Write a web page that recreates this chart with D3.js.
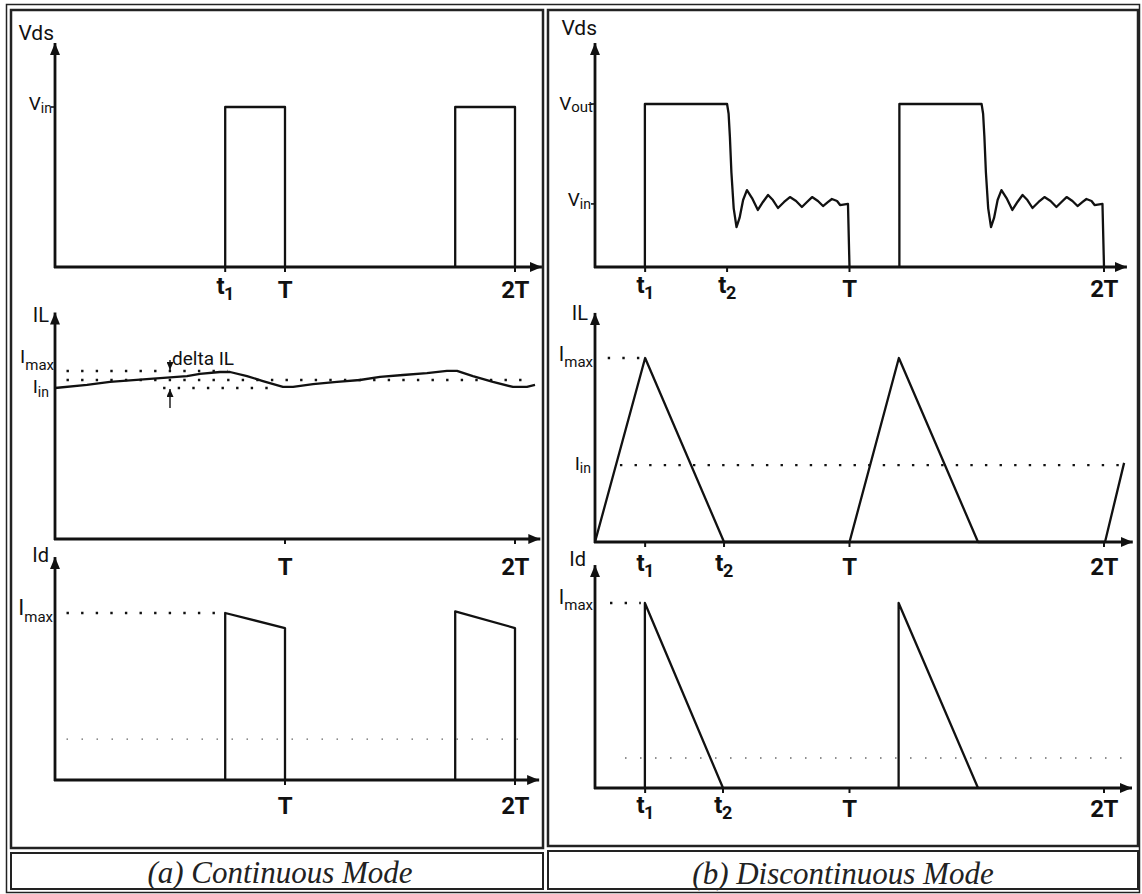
<!DOCTYPE html>
<html lang="en">
<head>
<meta charset="UTF-8" />
<title>Boost converter waveforms - CCM / DCM</title>
<script src="https://cdn.jsdelivr.net/npm/d3@7"></script>
<style>
  body { margin: 0; background: #fff; }
  svg { display: block; }
  .lbl { font-family: "Liberation Sans Narrow", "Arial Narrow", Roboto, sans-serif; fill: #111; }
  .tk { font-weight: bold; letter-spacing: -0.5px; }
  .cap { font-family: "Liberation Serif", "Times New Roman", serif; font-style: italic; fill: #222; }
</style>
</head>
<body>
<div id="chart"></div>
<script>
// time is in periods (T), amplitudes normalised per plot

// ---- (a) continuous mode ----
const contTickT = [0.74, 1, 2]
const contTickText = [['t', '1'], ['T', ''], ['2T', '']]
const contSwitchOn = [0.74, 1.74]
const contSwitchOff = [1.0, 2.0]
const contVin = 1
const contIL = [
  [0, 1.0], [0.139, 1.02], [0.239, 1.04], [0.413, 1.06], [0.574, 1.079],
  [0.63, 1.093], [0.717, 1.106], [0.761, 1.106], [0.835, 1.079], [0.904, 1.046],
  [0.991, 1.007], [1.035, 1.007], [1.122, 1.026], [1.226, 1.04], [1.326, 1.053],
  [1.413, 1.073], [1.513, 1.086], [1.617, 1.099], [1.704, 1.113], [1.748, 1.113],
  [1.817, 1.079], [1.904, 1.04], [1.991, 1.007], [2.052, 1.007], [2.087, 1.02]
]
const contILImax = 1.113
const contILIin = 1.0
const contILRefs = [[1.113, 0.05, 0.75], [1.053, 0.05, 2.06], [1.0, 0.47, 0.96]]
const contIdStart = [1.0, 1.01]
const contIdEnd = [0.91, 0.91]
const contIdRefs = [[1.0, 0.05, 0.72]]
const contIdFaint = [[0.245, 0.05, 2.06]]

// ---- (b) discontinuous mode ----
const dcmTickT = [0.197, 0.519, 1, 2]
const dcmTickText = [['t', '1'], ['t', '2'], ['T', ''], ['2T', '']]
const dcmPeriods = [0, 1]
const dcmVout = 1
const dcmVin = 0.387
const dcmVds = [
  [0.196, 0], [0.196, 1], [0.519, 1], [0.525, 0.94], [0.53, 0.8], [0.536, 0.58],
  [0.545, 0.36], [0.556, 0.245], [0.568, 0.301], [0.582, 0.411], [0.597, 0.472],
  [0.617, 0.423], [0.64, 0.35], [0.66, 0.399], [0.68, 0.442], [0.699, 0.411],
  [0.719, 0.362], [0.743, 0.399], [0.766, 0.429], [0.79, 0.405], [0.813, 0.368],
  [0.833, 0.399], [0.853, 0.429], [0.876, 0.405], [0.896, 0.374], [0.916, 0.399],
  [0.931, 0.417], [0.951, 0.405], [0.963, 0.38], [0.994, 0.387], [1.0, 0]
]
const dcmIL = [[0, 0], [0.197, 1], [0.507, 0], [1.0, 0], [1.194, 1], [1.505, 0], [2.004, 0], [2.079, 0.43]]
const dcmILImax = 1
const dcmILIin = 0.418
const dcmILRefs = [[1, 0.05, 0.18], [0.418, 0.098, 2.07]]
const dcmIdOn = [0.196, 1.193]
const dcmIdOff = [0.503, 1.505]
const dcmIdRefs = [[1, 0.059, 0.18]]
const dcmIdFaint = [[0.162, 0.118, 2.07]]

const svg = d3.select('#chart').append('svg').attr('width', 1142).attr('height', 894)

const defs = svg.append('defs')
defs.append('marker')
  .attr('id', 'arrow').attr('viewBox', '0 0 12 10').attr('refX', 12).attr('refY', 5)
  .attr('markerWidth', 12).attr('markerHeight', 10)
  .attr('markerUnits', 'userSpaceOnUse').attr('orient', 'auto')
  .append('path').attr('d', 'M0,0L12,5L0,10Z').attr('fill', '#111')
defs.append('marker')
  .attr('id', 'arrowSm').attr('viewBox', '0 0 8 7').attr('refX', 8).attr('refY', 3.5)
  .attr('markerWidth', 8).attr('markerHeight', 7)
  .attr('markerUnits', 'userSpaceOnUse').attr('orient', 'auto')
  .append('path').attr('d', 'M0,0L8,3.5L0,7Z').attr('fill', '#111')

// frames
const frame = svg.append('g').attr('fill', 'none').attr('stroke', '#222')
frame.append('rect').attr('x', 6.5).attr('y', 4.5).attr('width', 1133).attr('height', 888).attr('stroke-width', 1.5)
frame.append('rect').attr('x', 11).attr('y', 10).attr('width', 532).attr('height', 838).attr('stroke-width', 2.5)
frame.append('rect').attr('x', 548).attr('y', 10).attr('width', 590).attr('height', 836).attr('stroke-width', 2.5)
frame.append('rect').attr('x', 11).attr('y', 853).attr('width', 532).attr('height', 36).attr('stroke-width', 2)
frame.append('rect').attr('x', 548).attr('y', 851).attr('width', 590).attr('height', 38).attr('stroke-width', 2)

function label(g, x, y, main, sub, o = {}) {
  const t = g.append('text').attr('class', o.cls ? 'lbl ' + o.cls : 'lbl')
    .attr('x', x).attr('y', y)
    .attr('text-anchor', o.anchor || 'middle')
    .attr('font-size', o.size || 24)
  t.append('tspan').text(main)
  if (sub) {
    t.append('tspan').attr('font-size', o.subSize || 17).attr('dy', o.subDy || 5).text(sub)
  }
  return t
}

function drawPlot(g, p) {
  const { x, y, xEnd, yTop } = p
  const x0 = x(0), y0 = y(0)
  const ln = d3.line().x(d => x(d[0])).y(d => y(d[1]))

  // dotted reference levels
  g.selectAll('.ref').data(p.refs || []).join('line')
    .attr('x1', d => x(d[1])).attr('x2', d => x(d[2]))
    .attr('y1', d => y(d[0])).attr('y2', d => y(d[0]))
    .attr('stroke', '#111').attr('stroke-width', 2.4)
    .attr('stroke-dasharray', '2.4 12.2')
  g.selectAll('.faint').data(p.faint || []).join('line')
    .attr('x1', d => x(d[1])).attr('x2', d => x(d[2]))
    .attr('y1', d => y(d[0])).attr('y2', d => y(d[0]))
    .attr('stroke', '#666').attr('stroke-width', 1.4)
    .attr('stroke-dasharray', '1.5 13.5')

  // waveforms
  g.selectAll('.wave').data(p.series).join('path')
    .attr('d', ln).attr('fill', 'none')
    .attr('stroke', '#111').attr('stroke-width', 2.3)
    .attr('stroke-linejoin', 'round')

  // axes
  g.append('line').attr('x1', x0).attr('y1', y0 + 1).attr('x2', x0).attr('y2', y(yTop))
    .attr('stroke', '#111').attr('stroke-width', 2.8).attr('marker-end', 'url(#arrow)')
  g.append('line').attr('x1', x0 - 1).attr('y1', y0).attr('x2', x(xEnd)).attr('y2', y0)
    .attr('stroke', '#111').attr('stroke-width', 2.8).attr('marker-end', 'url(#arrow)')

  // x ticks + labels
  g.selectAll('.xt').data(p.ticks).join('line')
    .attr('x1', d => x(d)).attr('x2', d => x(d))
    .attr('y1', y0).attr('y2', y0 + 5)
    .attr('stroke', '#111').attr('stroke-width', 2)
  p.ticks.forEach((t, i) => {
    const [m, s] = p.tickText[i]
    label(g, x(t), y0 + (s ? p.labDy - 4 : p.labDy), m, s, { size: 24, subSize: 18, subDy: 6, cls: 'tk' })
  })

  // y-level ticks
  g.selectAll('.yt').data(p.levels || []).join('line')
    .attr('x1', x0 - 4).attr('x2', x0)
    .attr('y1', d => y(d)).attr('y2', d => y(d))
    .attr('stroke', '#111').attr('stroke-width', 1.6)

  ;(p.labels || []).forEach(l => {
    label(g, l.x, l.y, l.main, l.sub, { anchor: 'end', size: l.size || 20, subSize: l.subSize || 15, subDy: l.subDy || 6 })
  })
}

const xa = d3.scaleLinear().domain([0, 2]).range([55, 515])
const xb = d3.scaleLinear().domain([0, 2]).range([595, 1104])

const pulses = (on, off, top0, top1) =>
  on.map((t, i) => [[t, 0], [t, top0[i]], [off[i], top1[i]], [off[i], 0]])

// ---- panel (a) ----
const gA = svg.append('g')
const yA1 = d3.scaleLinear().domain([0, 1]).range([267, 107])
drawPlot(gA.append('g'), {
  x: xa, y: yA1, xEnd: 2.117, yTop: 1.4, labDy: 31,
  ticks: contTickT, tickText: contTickText,
  levels: [contVin],
  series: pulses(contSwitchOn, contSwitchOff, contSwitchOn.map(() => contVin), contSwitchOn.map(() => contVin)),
  labels: [
    { x: 54, y: 40, main: 'Vds', size: 21 },
    { x: 52, y: yA1(contVin) + 3, main: 'V', sub: 'in', size: 19, subSize: 14, subDy: 3 }
  ]
})

const yA2 = d3.scaleLinear().domain([0, 1]).range([539, 388])
const gA2 = gA.append('g')
drawPlot(gA2, {
  x: xa, y: yA2, xEnd: 2.11, yTop: 1.5, labDy: 36,
  ticks: [contTickT[1], contTickT[2]], tickText: [contTickText[1], contTickText[2]],
  refs: contILRefs,
  series: [contIL],
  labels: [
    { x: 49, y: yA2(1.5) + 9, main: 'IL', size: 20 },
    { x: 54, y: yA2(contILImax) - 8, main: 'I', sub: 'max', size: 19, subSize: 15, subDy: 7 },
    { x: 49, y: yA2(contILIin) + 5, main: 'I', sub: 'in', size: 19, subSize: 14, subDy: 4 }
  ]
})
// delta IL annotation
const tDelta = 0.5
gA2.append('line').attr('x1', xa(tDelta)).attr('x2', xa(tDelta))
  .attr('y1', yA2(contILImax) - 11).attr('y2', yA2(contILImax) - 1)
  .attr('stroke', '#111').attr('stroke-width', 1.4).attr('marker-end', 'url(#arrowSm)')
gA2.append('line').attr('x1', xa(tDelta)).attr('x2', xa(tDelta))
  .attr('y1', yA2(contILIin) + 20).attr('y2', yA2(contILIin) + 1)
  .attr('stroke', '#111').attr('stroke-width', 1.4).attr('marker-end', 'url(#arrowSm)')
label(gA2, xa(tDelta) + 2, yA2(contILImax) - 6, 'delta IL', '', { anchor: 'start', size: 19 })

const yA3 = d3.scaleLinear().domain([0, 1]).range([780, 613])
drawPlot(gA.append('g'), {
  x: xa, y: yA3, xEnd: 2.105, yTop: 1.335, labDy: 34,
  ticks: [contTickT[1], contTickT[2]], tickText: [contTickText[1], contTickText[2]],
  refs: contIdRefs, faint: contIdFaint,
  series: pulses(contSwitchOn, contSwitchOff, contIdStart, contIdEnd),
  labels: [
    { x: 49, y: yA3(1.335) + 5, main: 'Id', size: 20 },
    { x: 53, y: yA3(1) + 2, main: 'I', sub: 'max', size: 22, subSize: 15, subDy: 7 }
  ]
})

// ---- panel (b) ----
const gB = svg.append('g')
const yB1 = d3.scaleLinear().domain([0, 1]).range([267, 104])
drawPlot(gB.append('g'), {
  x: xb, y: yB1, xEnd: 2.09, yTop: 1.374, labDy: 30,
  ticks: dcmTickT, tickText: dcmTickText,
  levels: [dcmVout, dcmVin],
  series: dcmPeriods.map(p => dcmVds.map(d => [d[0] + p, d[1]])),
  labels: [
    { x: 597, y: 35, main: 'Vds', size: 21 },
    { x: 593, y: yB1(dcmVout) + 6, main: 'V', sub: 'out', size: 19, subSize: 15, subDy: 2 },
    { x: 591, y: yB1(dcmVin) + 2, main: 'V', sub: 'in', size: 19, subSize: 14, subDy: 3 }
  ]
})

const yB2 = d3.scaleLinear().domain([0, 1]).range([542, 358])
drawPlot(gB.append('g'), {
  x: xb, y: yB2, xEnd: 2.113, yTop: 1.245, labDy: 33,
  ticks: [dcmTickT[0], 0.507, dcmTickT[2], dcmTickT[3]], tickText: dcmTickText,
  refs: dcmILRefs,
  series: [dcmIL],
  labels: [
    { x: 588, y: yB2(1.245) + 7, main: 'IL', size: 20 },
    { x: 593, y: yB2(dcmILImax) + 3, main: 'I', sub: 'max', size: 20, subSize: 15, subDy: 6 },
    { x: 591, y: yB2(dcmILIin) + 5, main: 'I', sub: 'in', size: 19, subSize: 14, subDy: 3 }
  ]
})

const yB3 = d3.scaleLinear().domain([0, 1]).range([788, 603])
drawPlot(gB.append('g'), {
  x: xb, y: yB3, xEnd: 2.11, yTop: 1.205, labDy: 29,
  ticks: [dcmTickT[0], 0.503, dcmTickT[2], dcmTickT[3]], tickText: dcmTickText,
  refs: dcmIdRefs, faint: dcmIdFaint,
  series: dcmIdOn.map((t, i) => [[t, 0], [t, 1], [dcmIdOff[i], 0]]),
  labels: [
    { x: 586, y: yB3(1.205) + 1, main: 'Id', size: 20 },
    { x: 593, y: yB3(1) + 1, main: 'I', sub: 'max', size: 20, subSize: 15, subDy: 6 }
  ]
})

// captions
svg.append('text').attr('class', 'cap').attr('x', 280).attr('y', 883)
  .attr('text-anchor', 'middle').attr('font-size', 31).text('(a) Continuous Mode')
svg.append('text').attr('class', 'cap').attr('x', 843).attr('y', 884)
  .attr('text-anchor', 'middle').attr('font-size', 31).text('(b) Discontinuous Mode')
</script>
</body>
</html>
